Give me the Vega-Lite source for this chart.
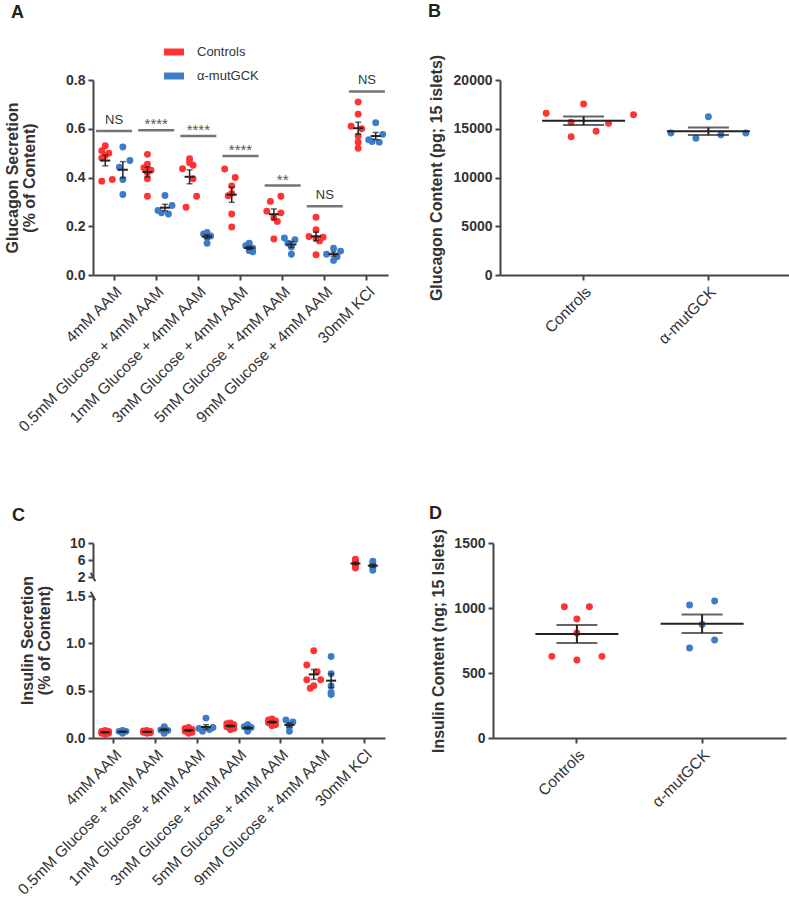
{
  "$schema": "https://vega.github.io/schema/vega-lite/v6.json",
  "background": "white",
  "padding": {"left": 4, "top": 3, "right": 0, "bottom": 0},
  "config": {
    "font": "Liberation Sans",
    "view": {"stroke": null},
    "axis": {"grid": false, "domainColor": "#444", "domainWidth": 2, "tickColor": "#444", "tickWidth": 2, "tickSize": 5, "labelColor": "#333", "titleColor": "#333", "titleFontSize": 16, "titleFontWeight": "bold"},
    "axisX": {"labelAngle": -45, "labelFontSize": 15.5, "labelPadding": 4, "labelLimit": 400},
    "axisY": {"labelFontSize": 14, "labelFontWeight": "bold", "labelPadding": 3},
    "title": {"fontSize": 18, "fontWeight": "bold", "color": "#222", "anchor": "start", "frame": "group"}
  },
  "datasets": {
    "a": [
      {"c": "4mM AAM", "g": "Controls", "l": "Controls", "v": 0.53},
      {"c": "4mM AAM", "g": "Controls", "l": "c-1", "v": 0.51},
      {"c": "4mM AAM", "g": "Controls", "l": "c1", "v": 0.50},
      {"c": "4mM AAM", "g": "Controls", "l": "Controls", "v": 0.49},
      {"c": "4mM AAM", "g": "Controls", "l": "c-1", "v": 0.48},
      {"c": "4mM AAM", "g": "Controls", "l": "c2", "v": 0.392},
      {"c": "4mM AAM", "g": "Controls", "l": "c-1", "v": 0.385},
      {"c": "4mM AAM", "g": "α-mutGCK", "l": "α-mutGCK", "v": 0.525},
      {"c": "4mM AAM", "g": "α-mutGCK", "l": "m2", "v": 0.47},
      {"c": "4mM AAM", "g": "α-mutGCK", "l": "m-1", "v": 0.442},
      {"c": "4mM AAM", "g": "α-mutGCK", "l": "α-mutGCK", "v": 0.392},
      {"c": "4mM AAM", "g": "α-mutGCK", "l": "α-mutGCK", "v": 0.33},
      {"c": "0.5mM Glucose + 4mM AAM", "g": "Controls", "l": "Controls", "v": 0.495},
      {"c": "0.5mM Glucose + 4mM AAM", "g": "Controls", "l": "Controls", "v": 0.455},
      {"c": "0.5mM Glucose + 4mM AAM", "g": "Controls", "l": "c-1", "v": 0.44},
      {"c": "0.5mM Glucose + 4mM AAM", "g": "Controls", "l": "c1", "v": 0.43},
      {"c": "0.5mM Glucose + 4mM AAM", "g": "Controls", "l": "Controls", "v": 0.42},
      {"c": "0.5mM Glucose + 4mM AAM", "g": "Controls", "l": "Controls", "v": 0.395},
      {"c": "0.5mM Glucose + 4mM AAM", "g": "Controls", "l": "Controls", "v": 0.323},
      {"c": "0.5mM Glucose + 4mM AAM", "g": "α-mutGCK", "l": "α-mutGCK", "v": 0.326},
      {"c": "0.5mM Glucose + 4mM AAM", "g": "α-mutGCK", "l": "m2", "v": 0.285},
      {"c": "0.5mM Glucose + 4mM AAM", "g": "α-mutGCK", "l": "m-2", "v": 0.265},
      {"c": "0.5mM Glucose + 4mM AAM", "g": "α-mutGCK", "l": "m-1", "v": 0.255},
      {"c": "0.5mM Glucose + 4mM AAM", "g": "α-mutGCK", "l": "m1", "v": 0.25},
      {"c": "1mM Glucose + 4mM AAM", "g": "Controls", "l": "Controls", "v": 0.477},
      {"c": "1mM Glucose + 4mM AAM", "g": "Controls", "l": "Controls", "v": 0.461},
      {"c": "1mM Glucose + 4mM AAM", "g": "Controls", "l": "c1", "v": 0.45},
      {"c": "1mM Glucose + 4mM AAM", "g": "Controls", "l": "c-2", "v": 0.436},
      {"c": "1mM Glucose + 4mM AAM", "g": "Controls", "l": "c1", "v": 0.395},
      {"c": "1mM Glucose + 4mM AAM", "g": "Controls", "l": "c2", "v": 0.323},
      {"c": "1mM Glucose + 4mM AAM", "g": "Controls", "l": "c-1", "v": 0.278},
      {"c": "1mM Glucose + 4mM AAM", "g": "α-mutGCK", "l": "α-mutGCK", "v": 0.175},
      {"c": "1mM Glucose + 4mM AAM", "g": "α-mutGCK", "l": "m-1", "v": 0.168},
      {"c": "1mM Glucose + 4mM AAM", "g": "α-mutGCK", "l": "m1", "v": 0.16},
      {"c": "1mM Glucose + 4mM AAM", "g": "α-mutGCK", "l": "α-mutGCK", "v": 0.155},
      {"c": "1mM Glucose + 4mM AAM", "g": "α-mutGCK", "l": "α-mutGCK", "v": 0.13},
      {"c": "3mM Glucose + 4mM AAM", "g": "Controls", "l": "c-2", "v": 0.435},
      {"c": "3mM Glucose + 4mM AAM", "g": "Controls", "l": "c1", "v": 0.40},
      {"c": "3mM Glucose + 4mM AAM", "g": "Controls", "l": "Controls", "v": 0.365},
      {"c": "3mM Glucose + 4mM AAM", "g": "Controls", "l": "Controls", "v": 0.335},
      {"c": "3mM Glucose + 4mM AAM", "g": "Controls", "l": "c-1", "v": 0.325},
      {"c": "3mM Glucose + 4mM AAM", "g": "Controls", "l": "Controls", "v": 0.25},
      {"c": "3mM Glucose + 4mM AAM", "g": "Controls", "l": "Controls", "v": 0.197},
      {"c": "3mM Glucose + 4mM AAM", "g": "α-mutGCK", "l": "α-mutGCK", "v": 0.13},
      {"c": "3mM Glucose + 4mM AAM", "g": "α-mutGCK", "l": "m-1", "v": 0.12},
      {"c": "3mM Glucose + 4mM AAM", "g": "α-mutGCK", "l": "m1", "v": 0.11},
      {"c": "3mM Glucose + 4mM AAM", "g": "α-mutGCK", "l": "α-mutGCK", "v": 0.10},
      {"c": "3mM Glucose + 4mM AAM", "g": "α-mutGCK", "l": "m1", "v": 0.095},
      {"c": "5mM Glucose + 4mM AAM", "g": "Controls", "l": "c2", "v": 0.323},
      {"c": "5mM Glucose + 4mM AAM", "g": "Controls", "l": "c-1", "v": 0.302},
      {"c": "5mM Glucose + 4mM AAM", "g": "Controls", "l": "c-2", "v": 0.262},
      {"c": "5mM Glucose + 4mM AAM", "g": "Controls", "l": "c2", "v": 0.255},
      {"c": "5mM Glucose + 4mM AAM", "g": "Controls", "l": "Controls", "v": 0.235},
      {"c": "5mM Glucose + 4mM AAM", "g": "Controls", "l": "c1", "v": 0.22},
      {"c": "5mM Glucose + 4mM AAM", "g": "Controls", "l": "Controls", "v": 0.148},
      {"c": "5mM Glucose + 4mM AAM", "g": "α-mutGCK", "l": "m-2", "v": 0.152},
      {"c": "5mM Glucose + 4mM AAM", "g": "α-mutGCK", "l": "m1", "v": 0.145},
      {"c": "5mM Glucose + 4mM AAM", "g": "α-mutGCK", "l": "m-1", "v": 0.13},
      {"c": "5mM Glucose + 4mM AAM", "g": "α-mutGCK", "l": "α-mutGCK", "v": 0.115},
      {"c": "5mM Glucose + 4mM AAM", "g": "α-mutGCK", "l": "α-mutGCK", "v": 0.085},
      {"c": "9mM Glucose + 4mM AAM", "g": "Controls", "l": "Controls", "v": 0.237},
      {"c": "9mM Glucose + 4mM AAM", "g": "Controls", "l": "Controls", "v": 0.186},
      {"c": "9mM Glucose + 4mM AAM", "g": "Controls", "l": "c-2", "v": 0.158},
      {"c": "9mM Glucose + 4mM AAM", "g": "Controls", "l": "c2", "v": 0.155},
      {"c": "9mM Glucose + 4mM AAM", "g": "Controls", "l": "Controls", "v": 0.15},
      {"c": "9mM Glucose + 4mM AAM", "g": "Controls", "l": "c1", "v": 0.14},
      {"c": "9mM Glucose + 4mM AAM", "g": "Controls", "l": "Controls", "v": 0.083},
      {"c": "9mM Glucose + 4mM AAM", "g": "α-mutGCK", "l": "α-mutGCK", "v": 0.11},
      {"c": "9mM Glucose + 4mM AAM", "g": "α-mutGCK", "l": "m2", "v": 0.098},
      {"c": "9mM Glucose + 4mM AAM", "g": "α-mutGCK", "l": "m-2", "v": 0.085},
      {"c": "9mM Glucose + 4mM AAM", "g": "α-mutGCK", "l": "m1", "v": 0.075},
      {"c": "9mM Glucose + 4mM AAM", "g": "α-mutGCK", "l": "α-mutGCK", "v": 0.06},
      {"c": "30mM KCl", "g": "Controls", "l": "Controls", "v": 0.71},
      {"c": "30mM KCl", "g": "Controls", "l": "Controls", "v": 0.66},
      {"c": "30mM KCl", "g": "Controls", "l": "c-2", "v": 0.61},
      {"c": "30mM KCl", "g": "Controls", "l": "c1", "v": 0.60},
      {"c": "30mM KCl", "g": "Controls", "l": "Controls", "v": 0.57},
      {"c": "30mM KCl", "g": "Controls", "l": "Controls", "v": 0.545},
      {"c": "30mM KCl", "g": "Controls", "l": "Controls", "v": 0.52},
      {"c": "30mM KCl", "g": "α-mutGCK", "l": "α-mutGCK", "v": 0.625},
      {"c": "30mM KCl", "g": "α-mutGCK", "l": "m2", "v": 0.577},
      {"c": "30mM KCl", "g": "α-mutGCK", "l": "m-2", "v": 0.555},
      {"c": "30mM KCl", "g": "α-mutGCK", "l": "m-1", "v": 0.548},
      {"c": "30mM KCl", "g": "α-mutGCK", "l": "m1", "v": 0.545}
    ],
    "sig": [
      {"c": "4mM AAM", "y": 0.591, "t": "NS"},
      {"c": "0.5mM Glucose + 4mM AAM", "y": 0.594, "t": "****"},
      {"c": "1mM Glucose + 4mM AAM", "y": 0.570, "t": "****"},
      {"c": "3mM Glucose + 4mM AAM", "y": 0.488, "t": "****"},
      {"c": "5mM Glucose + 4mM AAM", "y": 0.367, "t": "**"},
      {"c": "9mM Glucose + 4mM AAM", "y": 0.282, "t": "NS"},
      {"c": "30mM KCl", "y": 0.753, "t": "NS"}
    ],
    "b": [
      {"g": "Controls", "l": -3, "v": 16585},
      {"g": "Controls", "l": 0, "v": 17538},
      {"g": "Controls", "l": 4, "v": 16441},
      {"g": "Controls", "l": -1, "v": 15659},
      {"g": "Controls", "l": 2, "v": 15556},
      {"g": "Controls", "l": 1, "v": 14735},
      {"g": "Controls", "l": -1, "v": 14187},
      {"g": "α-mutGCK", "l": 0, "v": 16240},
      {"g": "α-mutGCK", "l": -3, "v": 14564},
      {"g": "α-mutGCK", "l": 3, "v": 14564},
      {"g": "α-mutGCK", "l": 1, "v": 14393},
      {"g": "α-mutGCK", "l": -1, "v": 14017}
    ],
    "c": [
      {"c": "4mM AAM", "g": "Controls", "l": "Controls", "v": 0.08},
      {"c": "4mM AAM", "g": "Controls", "l": "c-1", "v": 0.07},
      {"c": "4mM AAM", "g": "Controls", "l": "c1", "v": 0.07},
      {"c": "4mM AAM", "g": "Controls", "l": "Controls", "v": 0.06},
      {"c": "4mM AAM", "g": "Controls", "l": "c-1", "v": 0.05},
      {"c": "4mM AAM", "g": "Controls", "l": "c1", "v": 0.05},
      {"c": "4mM AAM", "g": "Controls", "l": "Controls", "v": 0.04},
      {"c": "4mM AAM", "g": "α-mutGCK", "l": "α-mutGCK", "v": 0.08},
      {"c": "4mM AAM", "g": "α-mutGCK", "l": "m-1", "v": 0.07},
      {"c": "4mM AAM", "g": "α-mutGCK", "l": "m1", "v": 0.07},
      {"c": "4mM AAM", "g": "α-mutGCK", "l": "α-mutGCK", "v": 0.06},
      {"c": "4mM AAM", "g": "α-mutGCK", "l": "α-mutGCK", "v": 0.05},
      {"c": "0.5mM Glucose + 4mM AAM", "g": "Controls", "l": "Controls", "v": 0.08},
      {"c": "0.5mM Glucose + 4mM AAM", "g": "Controls", "l": "c-1", "v": 0.075},
      {"c": "0.5mM Glucose + 4mM AAM", "g": "Controls", "l": "c1", "v": 0.07},
      {"c": "0.5mM Glucose + 4mM AAM", "g": "Controls", "l": "Controls", "v": 0.065},
      {"c": "0.5mM Glucose + 4mM AAM", "g": "Controls", "l": "c-1", "v": 0.06},
      {"c": "0.5mM Glucose + 4mM AAM", "g": "Controls", "l": "c1", "v": 0.055},
      {"c": "0.5mM Glucose + 4mM AAM", "g": "Controls", "l": "Controls", "v": 0.05},
      {"c": "0.5mM Glucose + 4mM AAM", "g": "α-mutGCK", "l": "α-mutGCK", "v": 0.12},
      {"c": "0.5mM Glucose + 4mM AAM", "g": "α-mutGCK", "l": "α-mutGCK", "v": 0.10},
      {"c": "0.5mM Glucose + 4mM AAM", "g": "α-mutGCK", "l": "m-1", "v": 0.085},
      {"c": "0.5mM Glucose + 4mM AAM", "g": "α-mutGCK", "l": "m1", "v": 0.08},
      {"c": "0.5mM Glucose + 4mM AAM", "g": "α-mutGCK", "l": "α-mutGCK", "v": 0.05},
      {"c": "1mM Glucose + 4mM AAM", "g": "Controls", "l": "Controls", "v": 0.11},
      {"c": "1mM Glucose + 4mM AAM", "g": "Controls", "l": "c-1", "v": 0.10},
      {"c": "1mM Glucose + 4mM AAM", "g": "Controls", "l": "c1", "v": 0.09},
      {"c": "1mM Glucose + 4mM AAM", "g": "Controls", "l": "Controls", "v": 0.08},
      {"c": "1mM Glucose + 4mM AAM", "g": "Controls", "l": "c-1", "v": 0.07},
      {"c": "1mM Glucose + 4mM AAM", "g": "Controls", "l": "c1", "v": 0.06},
      {"c": "1mM Glucose + 4mM AAM", "g": "Controls", "l": "Controls", "v": 0.05},
      {"c": "1mM Glucose + 4mM AAM", "g": "α-mutGCK", "l": "α-mutGCK", "v": 0.21},
      {"c": "1mM Glucose + 4mM AAM", "g": "α-mutGCK", "l": "m2", "v": 0.11},
      {"c": "1mM Glucose + 4mM AAM", "g": "α-mutGCK", "l": "m-2", "v": 0.10},
      {"c": "1mM Glucose + 4mM AAM", "g": "α-mutGCK", "l": "m1", "v": 0.09},
      {"c": "1mM Glucose + 4mM AAM", "g": "α-mutGCK", "l": "m-1", "v": 0.07},
      {"c": "3mM Glucose + 4mM AAM", "g": "Controls", "l": "Controls", "v": 0.16},
      {"c": "3mM Glucose + 4mM AAM", "g": "Controls", "l": "c-1", "v": 0.15},
      {"c": "3mM Glucose + 4mM AAM", "g": "Controls", "l": "c1", "v": 0.14},
      {"c": "3mM Glucose + 4mM AAM", "g": "Controls", "l": "Controls", "v": 0.13},
      {"c": "3mM Glucose + 4mM AAM", "g": "Controls", "l": "c-1", "v": 0.12},
      {"c": "3mM Glucose + 4mM AAM", "g": "Controls", "l": "c1", "v": 0.10},
      {"c": "3mM Glucose + 4mM AAM", "g": "Controls", "l": "Controls", "v": 0.09},
      {"c": "3mM Glucose + 4mM AAM", "g": "α-mutGCK", "l": "α-mutGCK", "v": 0.14},
      {"c": "3mM Glucose + 4mM AAM", "g": "α-mutGCK", "l": "m-1", "v": 0.12},
      {"c": "3mM Glucose + 4mM AAM", "g": "α-mutGCK", "l": "m1", "v": 0.11},
      {"c": "3mM Glucose + 4mM AAM", "g": "α-mutGCK", "l": "α-mutGCK", "v": 0.09},
      {"c": "3mM Glucose + 4mM AAM", "g": "α-mutGCK", "l": "α-mutGCK", "v": 0.07},
      {"c": "5mM Glucose + 4mM AAM", "g": "Controls", "l": "Controls", "v": 0.20},
      {"c": "5mM Glucose + 4mM AAM", "g": "Controls", "l": "c-1", "v": 0.19},
      {"c": "5mM Glucose + 4mM AAM", "g": "Controls", "l": "c1", "v": 0.18},
      {"c": "5mM Glucose + 4mM AAM", "g": "Controls", "l": "Controls", "v": 0.17},
      {"c": "5mM Glucose + 4mM AAM", "g": "Controls", "l": "c-1", "v": 0.16},
      {"c": "5mM Glucose + 4mM AAM", "g": "Controls", "l": "c1", "v": 0.14},
      {"c": "5mM Glucose + 4mM AAM", "g": "Controls", "l": "Controls", "v": 0.13},
      {"c": "5mM Glucose + 4mM AAM", "g": "α-mutGCK", "l": "m-1", "v": 0.19},
      {"c": "5mM Glucose + 4mM AAM", "g": "α-mutGCK", "l": "m1", "v": 0.17},
      {"c": "5mM Glucose + 4mM AAM", "g": "α-mutGCK", "l": "α-mutGCK", "v": 0.14},
      {"c": "5mM Glucose + 4mM AAM", "g": "α-mutGCK", "l": "α-mutGCK", "v": 0.12},
      {"c": "5mM Glucose + 4mM AAM", "g": "α-mutGCK", "l": "α-mutGCK", "v": 0.07},
      {"c": "9mM Glucose + 4mM AAM", "g": "Controls", "l": "Controls", "v": 0.922},
      {"c": "9mM Glucose + 4mM AAM", "g": "Controls", "l": "c-2", "v": 0.771},
      {"c": "9mM Glucose + 4mM AAM", "g": "Controls", "l": "c1", "v": 0.70},
      {"c": "9mM Glucose + 4mM AAM", "g": "Controls", "l": "c2", "v": 0.616},
      {"c": "9mM Glucose + 4mM AAM", "g": "Controls", "l": "c-2", "v": 0.616},
      {"c": "9mM Glucose + 4mM AAM", "g": "Controls", "l": "Controls", "v": 0.553},
      {"c": "9mM Glucose + 4mM AAM", "g": "Controls", "l": "c-1", "v": 0.525},
      {"c": "9mM Glucose + 4mM AAM", "g": "α-mutGCK", "l": "α-mutGCK", "v": 0.86},
      {"c": "9mM Glucose + 4mM AAM", "g": "α-mutGCK", "l": "α-mutGCK", "v": 0.68},
      {"c": "9mM Glucose + 4mM AAM", "g": "α-mutGCK", "l": "α-mutGCK", "v": 0.55},
      {"c": "9mM Glucose + 4mM AAM", "g": "α-mutGCK", "l": "α-mutGCK", "v": 0.48},
      {"c": "9mM Glucose + 4mM AAM", "g": "α-mutGCK", "l": "α-mutGCK", "v": 0.46},
      {"c": "30mM KCl", "g": "Controls", "l": "Controls", "v": 6.2},
      {"c": "30mM KCl", "g": "Controls", "l": "Controls", "v": 5.9},
      {"c": "30mM KCl", "g": "Controls", "l": "Controls", "v": 5.6},
      {"c": "30mM KCl", "g": "Controls", "l": "Controls", "v": 5.2},
      {"c": "30mM KCl", "g": "Controls", "l": "Controls", "v": 4.8},
      {"c": "30mM KCl", "g": "Controls", "l": "Controls", "v": 4.4},
      {"c": "30mM KCl", "g": "Controls", "l": "Controls", "v": 4.1},
      {"c": "30mM KCl", "g": "α-mutGCK", "l": "α-mutGCK", "v": 5.7},
      {"c": "30mM KCl", "g": "α-mutGCK", "l": "α-mutGCK", "v": 5.1},
      {"c": "30mM KCl", "g": "α-mutGCK", "l": "α-mutGCK", "v": 4.7},
      {"c": "30mM KCl", "g": "α-mutGCK", "l": "α-mutGCK", "v": 4.2},
      {"c": "30mM KCl", "g": "α-mutGCK", "l": "α-mutGCK", "v": 3.6}
    ],
    "d": [
      {"g": "Controls", "l": -1, "v": 1010},
      {"g": "Controls", "l": 1, "v": 1010},
      {"g": "Controls", "l": 0, "v": 915},
      {"g": "Controls", "l": 0, "v": 808},
      {"g": "Controls", "l": -2, "v": 628},
      {"g": "Controls", "l": 2, "v": 628},
      {"g": "Controls", "l": 0, "v": 600},
      {"g": "α-mutGCK", "l": -1, "v": 1023},
      {"g": "α-mutGCK", "l": 1, "v": 1054},
      {"g": "α-mutGCK", "l": 0, "v": 874},
      {"g": "α-mutGCK", "l": 1, "v": 754},
      {"g": "α-mutGCK", "l": -1, "v": 692}
    ],
    "brk": [{"mark": "axis break"}]
  },
  "bounds": "flush",
  "spacing": 463,
  "resolve": {"scale": {"color": "independent", "xOffset": "independent"}, "legend": {"color": "independent"}},
  "vconcat": [
    {
      "bounds": "flush",
      "spacing": 112,
      "resolve": {"scale": {"color": "independent", "xOffset": "independent"}, "legend": {"color": "independent"}},
      "hconcat": [
        {
          "width": 295,
          "height": 195,
          "title": {"text": "A", "dx": -82, "offset": 20},
          "encoding": {
            "x": {"field": "c", "type": "nominal", "title": null, "scale": {"domain": ["4mM AAM", "0.5mM Glucose + 4mM AAM", "1mM Glucose + 4mM AAM", "3mM Glucose + 4mM AAM", "5mM Glucose + 4mM AAM", "9mM Glucose + 4mM AAM", "30mM KCl"], "paddingInner": 0, "paddingOuter": 0}}
          },
          "layer": [
            {
              "data": {"name": "a"},
              "mark": {"type": "circle", "size": 48, "opacity": 1},
              "encoding": {
                "xOffset": {"field": "l", "type": "nominal", "scale": {"domain": ["c-2", "c-1", "Controls", "c1", "c2", "m-2", "m-1", "α-mutGCK", "m1", "m2"], "paddingInner": 0, "paddingOuter": 1.6}},
                "y": {"field": "v", "type": "quantitative", "title": ["Glucagon Secretion", "(% of Content)"], "scale": {"domain": [0, 0.8], "nice": false}, "axis": {"values": [0, 0.2, 0.4, 0.6, 0.8], "format": ".1f", "titlePadding": 28, "titleLineHeight": 17}},
                "color": {"field": "g", "type": "nominal", "scale": {"domain": ["Controls", "α-mutGCK"], "range": ["#FF3333", "#3D7CC9"]}, "legend": {"title": null, "orient": "none", "legendX": 71, "legendY": -38, "direction": "vertical", "symbolType": "M-1,-0.35H1V0.35H-1Z", "symbolSize": 400, "symbolStrokeWidth": 0, "symbolOpacity": 1, "labelFontSize": 13, "labelColor": "#333", "labelOffset": 13, "rowPadding": 7, "padding": 0}}
              }
            },
            {
              "data": {"name": "a"},
              "mark": {"type": "tick", "orient": "horizontal", "size": 10, "thickness": 2, "color": "#222"},
              "encoding": {
                "xOffset": {"field": "g", "type": "nominal"},
                "y": {"aggregate": "mean", "field": "v", "type": "quantitative", "title": ["Glucagon Secretion", "(% of Content)"]}
              }
            },
            {
              "data": {"name": "a"},
              "mark": {"type": "errorbar", "extent": "stderr", "ticks": true, "size": 6, "thickness": 1.5, "color": "#222"},
              "encoding": {
                "xOffset": {"field": "g", "type": "nominal"},
                "y": {"field": "v", "type": "quantitative", "title": ["Glucagon Secretion", "(% of Content)"]}
              }
            },
            {
              "data": {"name": "sig"},
              "mark": {"type": "tick", "orient": "horizontal", "size": 36, "thickness": 2.5, "color": "#3a3a3a"},
              "encoding": {"y": {"field": "y", "type": "quantitative", "title": ["Glucagon Secretion", "(% of Content)"]}}
            },
            {
              "data": {"name": "sig"},
              "transform": [{"filter": "datum.t == 'NS'"}],
              "mark": {"type": "text", "fontSize": 13, "color": "#333", "baseline": "alphabetic", "dy": -7},
              "encoding": {"y": {"field": "y", "type": "quantitative", "title": ["Glucagon Secretion", "(% of Content)"]}, "text": {"field": "t"}}
            },
            {
              "data": {"name": "sig"},
              "transform": [{"filter": "datum.t != 'NS'"}],
              "mark": {"type": "text", "fontSize": 15, "color": "#555", "baseline": "alphabetic", "dy": -1},
              "encoding": {"y": {"field": "y", "type": "quantitative", "title": ["Glucagon Secretion", "(% of Content)"]}, "text": {"field": "t"}}
            }
          ]
        },
        {
          "width": 292,
          "height": 195,
          "title": {"text": "B", "dx": -72, "offset": 33},
          "data": {"name": "b"},
          "encoding": {
            "x": {"field": "g", "type": "nominal", "title": null, "scale": {"domain": ["Controls", "α-mutGCK"], "paddingInner": 0, "paddingOuter": 0.17}}
          },
          "layer": [
            {
              "mark": {"type": "circle", "size": 48, "opacity": 1},
              "encoding": {
                "xOffset": {"field": "l", "type": "nominal", "scale": {"domain": [-4, -3, -2, -1, 0, 1, 2, 3, 4], "paddingInner": 0, "paddingOuter": 6.3}},
                "y": {"field": "v", "type": "quantitative", "title": "Glucagon Content (pg; 15 islets)", "scale": {"domain": [0, 20000], "nice": false}, "axis": {"values": [0, 5000, 10000, 15000, 20000], "format": "d", "titlePadding": 9}},
                "color": {"field": "g", "type": "nominal", "scale": {"domain": ["Controls", "α-mutGCK"], "range": ["#FF3333", "#3D7CC9"]}, "legend": null}
              }
            },
            {
              "mark": {"type": "tick", "orient": "horizontal", "size": 83, "thickness": 2, "color": "#222"},
              "encoding": {"y": {"aggregate": "mean", "field": "v", "type": "quantitative", "title": "Glucagon Content (pg; 15 islets)"}}
            },
            {
              "mark": {"type": "errorbar", "extent": "stderr", "ticks": true, "size": 41, "thickness": 2, "color": "#222"},
              "encoding": {"y": {"field": "v", "type": "quantitative", "title": "Glucagon Content (pg; 15 islets)"}}
            }
          ]
        }
      ]
    },
    {
      "bounds": "flush",
      "spacing": 108,
      "resolve": {"scale": {"color": "independent", "xOffset": "independent"}, "legend": {"color": "independent"}},
      "hconcat": [
        {
          "width": 292,
          "height": 195,
          "title": {"text": "C", "dx": -81, "offset": 11},
          "data": {"name": "c"},
          "encoding": {
            "x": {"field": "c", "type": "nominal", "title": null, "scale": {"domain": ["4mM AAM", "0.5mM Glucose + 4mM AAM", "1mM Glucose + 4mM AAM", "3mM Glucose + 4mM AAM", "5mM Glucose + 4mM AAM", "9mM Glucose + 4mM AAM", "30mM KCl"], "paddingInner": 0, "paddingOuter": 0}}
          },
          "layer": [
            {
              "transform": [{"filter": "datum.v <= 1.5"}],
              "layer": [
                {
                  "mark": {"type": "circle", "size": 48, "opacity": 1},
                  "encoding": {
                    "xOffset": {"field": "l", "type": "nominal", "scale": {"domain": ["c-2", "c-1", "Controls", "c1", "c2", "m-2", "m-1", "α-mutGCK", "m1", "m2"], "paddingInner": 0, "paddingOuter": 1.6}},
                    "y": {"field": "v", "type": "quantitative", "title": ["Insulin Secretion", "(% of Content)"], "scale": {"domain": [0, 1.5], "range": [195, 53], "nice": false}, "axis": {"orient": "left", "values": [0, 0.5, 1, 1.5], "format": ".1f", "titleY": 97, "titlePadding": 13, "titleLineHeight": 17}},
                    "color": {"field": "g", "type": "nominal", "scale": {"domain": ["Controls", "α-mutGCK"], "range": ["#FF3333", "#3D7CC9"]}, "legend": null}
                  }
                },
                {
                  "mark": {"type": "tick", "orient": "horizontal", "size": 10, "thickness": 2, "color": "#222"},
                  "encoding": {"xOffset": {"field": "g", "type": "nominal"}, "y": {"aggregate": "mean", "field": "v", "type": "quantitative", "title": ["Insulin Secretion", "(% of Content)"]}}
                },
                {
                  "mark": {"type": "errorbar", "extent": "stderr", "ticks": true, "size": 6, "thickness": 1.5, "color": "#222"},
                  "encoding": {"xOffset": {"field": "g", "type": "nominal"}, "y": {"field": "v", "type": "quantitative", "title": ["Insulin Secretion", "(% of Content)"]}}
                },
                {
                  "data": {"name": "brk"},
                  "mark": {"type": "point", "shape": "M-0.55,-1L0.55,1", "filled": false, "stroke": "#444", "strokeWidth": 2, "size": 70, "opacity": 1},
                  "encoding": {"x": {"datum": "4mM AAM", "bandPosition": 0}, "y": {"datum": 1.5, "type": "quantitative", "title": ["Insulin Secretion", "(% of Content)"]}}
                }
              ]
            },
            {
              "transform": [{"filter": "datum.v > 1.5"}],
              "layer": [
                {
                  "mark": {"type": "circle", "size": 48, "opacity": 1},
                  "encoding": {
                    "xOffset": {"field": "l", "type": "nominal", "scale": {"domain": ["c-2", "c-1", "Controls", "c1", "c2", "m-2", "m-1", "α-mutGCK", "m1", "m2"], "paddingInner": 0, "paddingOuter": 1.6}},
                    "y": {"field": "v", "type": "quantitative", "title": null, "scale": {"domain": [2, 10], "range": [34, 0], "nice": false, "zero": false}, "axis": {"orient": "left", "values": [2, 6, 10]}},
                    "color": {"field": "g", "type": "nominal", "scale": {"domain": ["Controls", "α-mutGCK"], "range": ["#FF3333", "#3D7CC9"]}, "legend": null}
                  }
                },
                {
                  "mark": {"type": "tick", "orient": "horizontal", "size": 10, "thickness": 2, "color": "#222"},
                  "encoding": {"xOffset": {"field": "g", "type": "nominal"}, "y": {"aggregate": "mean", "field": "v", "type": "quantitative", "title": null}}
                },
                {
                  "mark": {"type": "errorbar", "extent": "stderr", "ticks": true, "size": 6, "thickness": 1.5, "color": "#222"},
                  "encoding": {"xOffset": {"field": "g", "type": "nominal"}, "y": {"field": "v", "type": "quantitative", "title": null}}
                },
                {
                  "data": {"name": "brk"},
                  "mark": {"type": "point", "shape": "M-0.55,-1L0.55,1", "filled": false, "stroke": "#444", "strokeWidth": 2, "size": 70, "opacity": 1},
                  "encoding": {"x": {"datum": "4mM AAM", "bandPosition": 0}, "y": {"datum": 2, "type": "quantitative", "title": null}}
                }
              ]
            }
          ],
          "resolve": {"scale": {"y": "independent"}, "axis": {"y": "independent"}}
        },
        {
          "width": 293,
          "height": 195,
          "title": {"text": "D", "dx": -64, "offset": 5},
          "data": {"name": "d"},
          "encoding": {
            "x": {"field": "g", "type": "nominal", "title": null, "scale": {"domain": ["Controls", "α-mutGCK"], "paddingInner": 0, "paddingOuter": 0.17}}
          },
          "layer": [
            {
              "mark": {"type": "circle", "size": 48, "opacity": 1},
              "encoding": {
                "xOffset": {"field": "l", "type": "nominal", "scale": {"domain": [-4, -3, -2, -1, 0, 1, 2, 3, 4], "paddingInner": 0, "paddingOuter": 6.3}},
                "y": {"field": "v", "type": "quantitative", "title": "Insulin Content (ng; 15 Islets)", "scale": {"domain": [0, 1500], "nice": false}, "axis": {"values": [0, 500, 1000, 1500], "format": "d", "titlePadding": 7}},
                "color": {"field": "g", "type": "nominal", "scale": {"domain": ["Controls", "α-mutGCK"], "range": ["#FF3333", "#3D7CC9"]}, "legend": null}
              }
            },
            {
              "mark": {"type": "tick", "orient": "horizontal", "size": 83, "thickness": 2, "color": "#222"},
              "encoding": {"y": {"aggregate": "mean", "field": "v", "type": "quantitative", "title": "Insulin Content (ng; 15 Islets)"}}
            },
            {
              "mark": {"type": "errorbar", "extent": "stderr", "ticks": true, "size": 41, "thickness": 2, "color": "#222"},
              "encoding": {"y": {"field": "v", "type": "quantitative", "title": "Insulin Content (ng; 15 Islets)"}}
            }
          ]
        }
      ]
    }
  ]
}
